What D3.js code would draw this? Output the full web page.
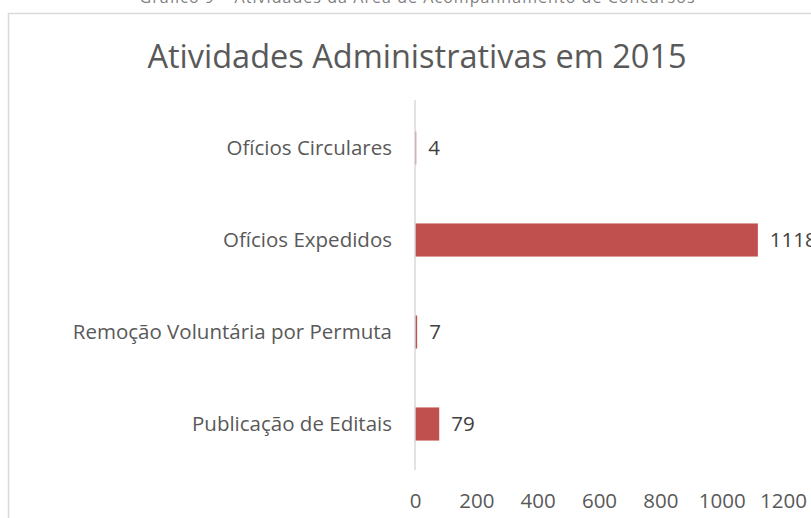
<!DOCTYPE html>
<html><head><meta charset="utf-8">
<script src="https://cdn.jsdelivr.net/npm/d3@7"></script>
<style>body{margin:0;background:#fff}svg{display:block}</style>
</head><body>
<script>
const categories = ["Ofícios Circulares","Ofícios Expedidos","Remoção Voluntária por Permuta","Publicação de Editais"];
const values = [4,1118,7,79];
const ticks = [0,200,400,600,800,1000,1200];
const title = "Atividades Administrativas em 2015";
const caption = "Gráfico 9 – Atividades da Área de Acompanhamento de Concursos";

const W=811,H=518;
const svg=d3.select("body").append("svg").attr("width",W).attr("height",H);
const font="'Open Sans', sans-serif";

svg.append("text").attr("x",417).attr("y",3).attr("text-anchor","middle")
  .attr("font-family",font).attr("font-size",16).attr("fill","#7f7f7f")
  .attr("textLength",555).text(caption);

svg.append("rect").attr("x",8.5).attr("y",13.5).attr("width",W).attr("height",H)
  .attr("fill","#fff").attr("stroke","#d9d9d9").attr("stroke-width",1.5);

svg.append("text").attr("x",417).attr("y",68).attr("text-anchor","middle")
  .attr("font-family",font).attr("font-size",32.5).attr("fill","#595959").text(title);

const x=d3.scaleLinear().domain([0,1200]).range([415,783]);
const y=d3.scaleBand().domain(categories).range([102,470]).paddingInner(0.64).paddingOuter(0.32);

svg.selectAll("rect.bar").data(values).join("rect").attr("class","bar")
  .attr("x",x(0)).attr("y",(d,i)=>y(categories[i])).attr("width",d=>x(d)-x(0))
  .attr("height",y.bandwidth()).attr("fill","#c0504d");

svg.append("line").attr("x1",x(0)).attr("x2",x(0)).attr("y1",100).attr("y2",470)
  .attr("stroke","#d9d9d9").attr("stroke-width",1.5);

svg.selectAll("text.cat").data(categories).join("text").attr("class","cat")
  .attr("x",392).attr("y",d=>y(d)+y.bandwidth()/2).attr("dy","0.36em")
  .attr("text-anchor","end").attr("font-family",font).attr("font-size",20.5).attr("fill","#595959").text(d=>d);

svg.selectAll("text.val").data(values).join("text").attr("class","val")
  .attr("x",d=>x(d)+12).attr("y",(d,i)=>y(categories[i])+y.bandwidth()/2).attr("dy","0.36em")
  .attr("font-family",font).attr("font-size",20.5).attr("fill","#404040").text(d=>d);

const ax=svg.append("g").attr("transform","translate(0,470)")
  .call(d3.axisBottom(x).tickValues(ticks).tickSize(0).tickPadding(23).tickFormat(d3.format("d")));
ax.select(".domain").remove();
ax.selectAll("text").attr("font-family",font).attr("font-size",20.5).attr("fill","#595959");
</script>
</body></html>
